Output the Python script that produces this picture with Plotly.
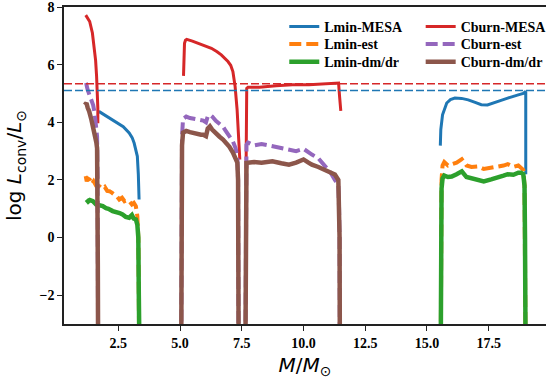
import plotly.graph_objects as go

# ---------------- data ----------------
lmin_mesa_x = [1.71, 1.9, 2.1, 2.41, 2.7, 2.94, 3.06, 3.14, 3.22, 3.27, 3.31, 3.34, None,
               15.54, 15.56, 15.63, 15.72, 15.80, 15.95, 16.13, 16.4, 16.67, 16.95, 17.20, 17.45,
               17.73, 18.0, 18.27, 18.5, 18.73, 18.9, 18.97, 19.0, 19.0]
lmin_mesa_y = [4.38, 4.28, 4.18, 4.03, 3.85, 3.63, 3.47, 3.28, 3.05, 2.82, 2.2, 1.32, None,
               3.19, 3.75, 4.26, 4.50, 4.67, 4.79, 4.84, 4.83, 4.78, 4.69, 4.61, 4.60,
               4.67, 4.76, 4.84, 4.91, 4.96, 5.0, 5.07, 5.07, 2.2]

lmin_est_x = [1.18, 1.22, 1.26, 1.34, 1.42, 1.5, 1.6, 1.74, 1.85, 1.95, 2.05, 2.14, 2.25, 2.35,
              2.45, 2.54, 2.65, 2.75, 2.85, 2.94, 3.05, 3.13, 3.21, 3.27, 3.31, 3.33, 3.34, None,
              15.56, 15.57, 15.59, 15.63, 15.7, 15.85, 16.0, 16.2, 16.41, 16.6, 16.8, 17.07, 17.3,
              17.6, 17.9, 18.1, 18.27, 18.5, 18.7, 18.81, 18.9, 18.95, 18.97, 18.99]
lmin_est_y = [2.13, 1.95, 2.05, 2.01, 1.85, 1.95, 1.8, 1.78, 1.7, 1.76, 1.62, 1.61, 1.55, 1.5,
              1.42, 1.32, 1.38, 1.26, 1.3, 1.26, 1.15, 1.2, 1.09, 0.74, 0.0, -2.0, -3.5, None,
              -3.5, 0.0, 2.0, 2.5, 2.62, 2.5, 2.55, 2.6, 2.72, 2.5, 2.45, 2.47, 2.38,
              2.42, 2.45, 2.5, 2.55, 2.45, 2.5, 2.42, 2.35, 1.8, 0.0, -3.5]

lmin_dm_x = [1.21, 1.28, 1.35, 1.47, 1.6, 1.75, 1.87, 2.0, 2.1, 2.27, 2.4, 2.55, 2.67, 2.8, 2.94,
             3.05, 3.12, 3.21, 3.27, 3.31, 3.33, 3.35, None,
             15.56, 15.57, 15.59, 15.63, 15.7, 15.85, 16.0, 16.2, 16.41, 16.6, 16.8, 17.07, 17.3,
             17.6, 17.9, 18.1, 18.27, 18.5, 18.7, 18.81, 18.9, 18.95, 18.97, 18.99]
lmin_dm_y = [1.32, 1.25, 1.3, 1.26, 1.15, 1.12, 1.09, 1.02, 1.0, 0.92, 0.9, 0.85, 0.8, 0.72, 0.69,
             0.78, 0.66, 0.63, 0.45, 0.0, -2.0, -3.5, None,
             -3.5, 0.0, 1.7, 2.05, 2.15, 2.1, 2.12, 2.2, 2.3, 2.1, 2.05, 2.0, 1.95,
             2.02, 2.08, 2.15, 2.2, 2.18, 2.25, 2.25, 2.2, 1.8, 0.0, -3.5]

cburn_mesa_x = [1.18, 1.34, 1.45, 1.53, 1.58, 1.62, 1.65, 1.67, 1.67, None,
                5.14, 5.16, 5.18, 5.22, 5.27, 5.5, 5.74, 6.0, 6.27, 6.5, 6.67, 6.94, 7.05, 7.14,
                7.23, 7.31, 7.38, 7.42, None,
                7.67, 7.69, 7.70, 7.75, 8.22, 8.89, 9.55, 10.22, 10.89, 11.42, 11.46, 11.51]
cburn_mesa_y = [7.72, 7.5, 7.1, 6.6, 6.15, 5.6, 5.0, 4.5, 3.97, None,
                5.61, 6.3, 6.74, 6.85, 6.88, 6.82, 6.74, 6.66, 6.57, 6.45, 6.34, 6.11, 5.98, 5.76,
                5.24, 4.44, 3.40, 2.71, None,
                2.0, 4.0, 5.18, 5.22, 5.22, 5.27, 5.30, 5.30, 5.34, 5.36, 4.9, 4.40]

cburn_est_x = [1.14, 1.21, 1.26, 1.32, 1.41, 1.48, 1.54, 1.61, 1.64, 1.66, 1.67, 1.68, None,
               5.05, 5.06, 5.08, 5.12, 5.25, 5.4, 5.55, 5.7, 5.85, 5.94, 6.05, 6.12, 6.21, 6.3,
               6.45, 6.6, 6.74, 6.85, 7.0, 7.14, 7.25, 7.32, 7.35, 7.36, 7.37, None,
               7.65, 7.66, 7.67, 7.69, 7.75, 8.0, 8.3, 8.74, 9.1, 9.41, 9.7, 10.0, 10.2, 10.34,
               10.6, 10.87, 11.1, 11.27, 11.41, 11.44, 11.46, 11.47]
cburn_est_y = [5.28, 5.30, 5.12, 4.98, 4.78, 4.6, 4.33, 3.86, 3.5, 2.0, -1.0, -3.5, None,
               -3.5, 0.0, 3.5, 4.12, 4.2, 4.15, 4.12, 4.08, 4.06, 4.06, 4.0, 4.2, 4.26, 4.2,
               4.05, 3.95, 3.85, 3.7, 3.5, 3.34, 3.1, 2.8, 2.0, 0.0, -3.5, None,
               -3.5, 0.0, 2.5, 3.22, 3.3, 3.2, 3.25, 3.17, 3.1, 3.05, 3.0, 3.08, 2.95, 2.88,
               2.75, 2.47, 2.25, 2.0, 1.84, 1.0, 0.0, -3.5]

cburn_dm_x = [1.14, 1.21, 1.26, 1.32, 1.41, 1.48, 1.54, 1.61, 1.64, 1.66, 1.67, 1.68, None,
              5.05, 5.06, 5.08, 5.12, 5.25, 5.4, 5.55, 5.7, 5.85, 5.94, 6.05, 6.12, 6.21, 6.3,
              6.45, 6.6, 6.74, 6.85, 7.0, 7.14, 7.25, 7.32, 7.35, 7.36, 7.37, None,
              7.65, 7.66, 7.67, 7.69, 7.75, 8.0, 8.3, 8.74, 9.1, 9.41, 9.7, 10.0, 10.2, 10.34,
              10.6, 10.87, 11.1, 11.27, 11.41, 11.44, 11.46, 11.47]
cburn_dm_y = [4.6, 4.67, 4.5, 4.38, 4.09, 3.85, 3.51, 3.3, 3.1, 2.0, -1.0, -3.5, None,
              -3.5, 0.0, 3.2, 3.64, 3.7, 3.66, 3.62, 3.6, 3.57, 3.57, 3.52, 3.78, 3.86, 3.75,
              3.6, 3.5, 3.4, 3.3, 3.15, 2.95, 2.75, 2.6, 2.0, 0.0, -3.5, None,
              -3.5, 0.0, 2.3, 2.59, 2.6, 2.62, 2.6, 2.65, 2.58, 2.53, 2.6, 2.71, 2.6, 2.53,
              2.45, 2.36, 2.28, 2.19, 2.0, 1.0, 0.0, -3.5]

cburn_limit = 5.34
lmin_limit = 5.10

x_ticks = [2.5, 5.0, 7.5, 10.0, 12.5, 15.0, 17.5]
y_ticks = [-2, 0, 2, 4, 6, 8]

# ---------------- figure ----------------
BLUE, ORANGE, GREEN = "#1f77b4", "#ff7f0e", "#2ca02c"
RED, PURPLE, BROWN = "#d62728", "#9467bd", "#8c564b"

fig = go.Figure()

fig.add_hline(y=cburn_limit, line=dict(color=RED, width=1.5, dash="8px,3px"))
fig.add_hline(y=lmin_limit, line=dict(color=BLUE, width=1.5, dash="8px,3px"))

series = [
    (lmin_mesa_x, lmin_mesa_y, "Lmin-MESA", dict(color=BLUE, width=3), "legend"),
    (lmin_est_x, lmin_est_y, "Lmin-est", dict(color=ORANGE, width=4, dash="12px,5px"), "legend2"),
    (lmin_dm_x, lmin_dm_y, "Lmin-dm/dr", dict(color=GREEN, width=4.5), "legend3"),
    (cburn_mesa_x, cburn_mesa_y, "Cburn-MESA", dict(color=RED, width=3), "legend4"),
    (cburn_est_x, cburn_est_y, "Cburn-est", dict(color=PURPLE, width=4, dash="12px,5px"), "legend5"),
    (cburn_dm_x, cburn_dm_y, "Cburn-dm/dr", dict(color=BROWN, width=4.5), "legend6"),
]
for xs, ys, nm, ln, lg in series:
    fig.add_trace(go.Scatter(x=xs, y=ys, mode="lines", name=nm, line=ln, legend=lg))

tickfont = dict(family="Liberation Serif", size=14, color="black", weight="bold")
legfont = dict(family="Liberation Serif", size=14, color="black", weight="bold")

rows_y = [0.937, 0.882, 0.826]
col_x = [0.457, 0.74]
legends = {}
names = ["legend", "legend2", "legend3", "legend4", "legend5", "legend6"]
for i, nm in enumerate(names):
    legends[nm] = dict(x=col_x[i // 3], y=rows_y[i % 3], xanchor="left", yanchor="middle",
                       font=legfont, bgcolor="rgba(0,0,0,0)")

fig.update_layout(
    width=552, height=380,
    margin=dict(l=64, r=0, t=7, b=56),
    paper_bgcolor="white", plot_bgcolor="white",
    showlegend=True,
    **legends,
    xaxis=dict(range=[0.3, 19.82], tickvals=x_ticks, ticktext=[f"{v:.1f}" for v in x_ticks],
               showgrid=False, zeroline=False, showline=True, linecolor="#222", linewidth=1.5,
               mirror=True, ticks="outside", ticklen=5, tickwidth=1.2, tickcolor="#222",
               tickfont=tickfont, ticklabeloverflow="allow",
               title=dict(text="<i>M</i>/<i>M</i><sub>⊙</sub>", standoff=8,
                          font=dict(family="DejaVu Sans", size=20, color="black"))),
    yaxis=dict(range=[-3, 8.002], tickvals=y_ticks, showgrid=False, zeroline=False,
               showline=True, linecolor="#222", linewidth=1.5,
               ticks="outside", ticklen=5, tickwidth=1.2, tickcolor="#222",
               tickfont=tickfont, ticklabeloverflow="allow",
               title=dict(text="log <i>L</i><sub>conv</sub>/<i>L</i><sub>⊙</sub>", standoff=12,
                          font=dict(family="DejaVu Sans", size=20, color="black"))),
)

fig.write_html("out.html")
